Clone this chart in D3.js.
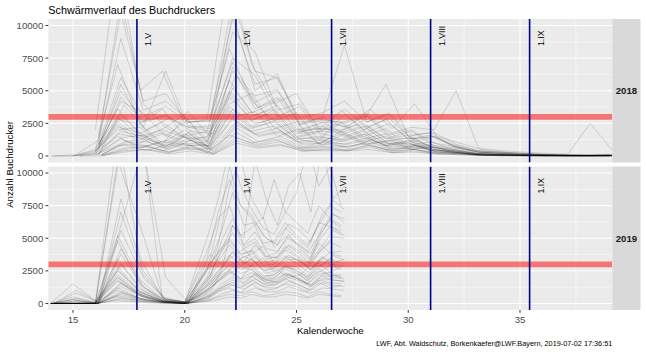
<!DOCTYPE html>
<html><head><meta charset="utf-8">
<script src="https://cdn.jsdelivr.net/npm/d3@7"></script>
<style>body{margin:0;background:#fff}svg{display:block}text{font-family:"Liberation Sans",Arial,sans-serif}</style>
</head><body><svg id="c" width="646" height="352"></svg>
<script>
// ---------------- data ----------------
const weeks2018 = [14,15,16,17,18,19,20,21,22,23,24,25,26,27,28,29,30,31,32,33,34,35,36,37,38,39];
const weeks2019 = [14,15,16,17,18,19,20,21,21.5,22,22.5,23,23.5,24,24.5,25,25.5,26,26.5,27];

const traps2018 = [
 [0,0,200,1500,600,1100,800,900,3500,2200,2600,1300,1000,1700,900,1100,500,700,200,100,80,50,30,20,30,40],
 [null,null,100,3200,1400,2200,1300,700,5200,3100,3900,1800,2300,1500,2100,900,1200,500,400,150,100,60,40,30,20,30],
 [null,0,500,7000,2500,3600,1500,1900,8200,4200,2700,3300,1200,2600,1500,2100,800,1100,500,200,150,100,50,30,40,60],
 [null,null,50,600,800,300,700,200,1800,900,1300,500,700,400,900,300,500,200,250,50,40,20,10,10,20,10],
 [0,100,1200,12000,4000,2200,3400,1500,11000,5000,6300,2400,3000,2200,3100,1400,1900,800,600,300,200,100,80,60,50,100],
 [null,null,300,2400,1000,1700,900,1100,4000,4800,2100,2600,900,1900,1100,1500,600,800,300,100,60,40,30,20,20,20],
 [null,null,800,4200,3300,1500,2800,900,6800,3600,4500,2000,2600,1700,2300,1200,1400,600,500,200,100,80,60,40,30,50],
 [null,0,100,900,400,900,500,600,2600,1500,1800,700,1100,600,1200,500,800,300,200,80,50,30,20,10,10,20],
 [null,null,2000,15000,5000,6500,2500,2800,14000,7000,4000,4800,2000,3500,2000,2800,1300,1600,800,400,300,200,100,80,60,80],
 [null,null,200,1900,1500,600,1300,400,3000,3400,1500,2100,800,1700,900,1200,500,700,300,100,80,50,40,30,20,30],
 [0,0,400,3600,1700,2600,1400,1200,4800,2700,3500,1500,1900,2500,1300,1700,700,900,400,150,100,60,50,30,30,40],
 [null,null,100,1100,1300,700,1900,300,2200,1100,1500,600,900,700,1100,400,700,300,200,60,40,20,20,10,10,10],
 [null,null,600,5500,2200,6500,2300,2100,7500,6200,3000,3800,1500,3200,1800,2500,1100,1400,700,300,200,100,70,50,40,60],
 [null,0,300,2800,2400,1000,2000,700,3800,2300,2900,1400,1800,1300,1900,900,1200,400,400,200,100,60,40,30,30,30],
 [null,null,0,300,500,150,400,100,1200,700,900,350,500,400,700,250,400,150,100,40,20,10,10,10,10,10],
 [null,null,1000,9000,3500,4200,2800,3000,10500,5500,6000,2600,2900,8500,2600,3200,1300,1500,700,300,200,150,100,80,60,80],
 [null,null,400,2000,2200,900,3000,1000,5800,3300,4100,1900,2100,1900,2700,5500,1500,1800,700,300,200,100,60,40,30,50],
 [null,0,200,1300,700,1200,800,800,2800,1700,2100,1000,1200,900,1400,700,900,400,300,100,60,40,30,20,20,20],
 [null,null,700,3900,2000,2900,1900,1700,6200,3700,4400,2000,2600,2200,3600,2100,4000,1500,1000,500,300,200,100,60,40,50],
 [null,null,100,800,900,400,1000,250,1600,1000,1300,600,700,700,900,500,600,250,200,80,50,30,20,20,20,20],
 [null,null,500,4500,2600,3100,2200,2300,7200,4100,5000,2400,2700,2600,3300,1700,2200,2000,5000,600,400,300,200,150,2500,400],
 [null,null,300,2200,1800,800,1700,700,3300,2100,2700,1300,1500,1200,1700,800,1000,500,300,100,80,50,30,20,20,30],
 [null,0,0,500,700,300,800,200,1400,800,1100,450,550,500,800,400,500,250,150,50,30,20,10,10,10,10],
 [null,null,900,6000,3000,3800,2600,2700,9500,8000,3500,4000,1900,3600,2200,2900,1300,1500,800,400,300,200,120,80,60,70],
 [null,null,200,1700,1400,600,1500,500,3100,1900,2300,1100,1300,1100,1500,800,1000,500,300,120,80,50,30,20,20,20],
 [null,null,1500,11000,4200,4800,2600,2700,12000,6500,6000,2900,3300,4200,2600,3300,1600,1800,900,400,250,150,100,70,50,60],
 [null,null,100,1000,1100,500,1200,400,2400,1600,1900,900,1000,900,1300,600,800,350,250,80,50,30,20,20,10,20],
 [null,null,600,3000,1500,2000,1400,1400,4500,2800,3300,1700,1900,1800,2300,1100,1400,700,400,200,120,80,50,30,30,40],
 [null,null,200,1400,1600,700,1800,600,3600,2500,2900,1300,1400,1200,1700,900,1100,500,300,120,80,50,30,20,20,30],
 [null,null,400,2600,1300,1800,1100,1500,5000,3100,3600,1800,2100,2000,2500,1300,1600,700,500,200,120,80,50,30,30,30],
 [null,null,50,400,500,250,600,150,1000,600,800,400,400,400,500,250,300,150,100,30,20,10,10,10,10,10],
 [null,null,800,5000,2700,3100,2200,1900,6500,4600,5100,2500,2800,2500,3100,1600,2000,1000,700,300,200,120,80,60,50,60]
];

const traps2019 = [
 [0,0,0,1200,400,100,0,800,1800,2500,1900,3000,2100,2200,2800,2600,1900,3100,2400,2800],
 [0,200,50,3000,1000,200,50,1500,2600,4000,3100,4500,3600,3500,4400,3800,3000,4200,5100,5000],
 [0,0,0,500,200,50,0,300,900,1200,800,1500,1000,1100,1500,1300,900,1600,1200,1400],
 [0,1000,100,8000,2500,300,100,3800,3000,3600,4200,3200,2500,2800,3400,3300,2600,3500,3000,2900],
 [0,0,0,2000,700,150,0,1000,2100,3000,2300,2600,1800,1900,2800,2400,1700,2700,2100,2200],
 [0,300,0,5200,1800,300,100,2500,6000,10500,7500,6500,4600,4800,6200,5200,4500,6000,7500,7000],
 [0,0,0,800,300,100,0,600,1300,1800,1500,2200,1600,1700,2300,1900,1400,2100,1800,1700],
 [0,0,50,13000,3500,400,100,4000,6500,7500,5200,5800,6600,4300,5100,4600,3900,5200,6400,5800],
 [0,100,0,1500,500,100,0,1200,2000,2800,3600,3200,2300,2600,2000,2200,2900,2900,3700,3300],
 [0,0,0,300,150,50,0,200,500,700,600,900,600,700,900,800,500,900,700,600],
 [0,500,100,2500,900,200,50,1800,3500,5000,3800,4000,2900,3000,4100,3600,2800,4600,3900,4000],
 [0,0,0,4200,1300,200,0,2200,4100,6000,4400,5000,3600,3900,5300,4200,3500,5500,6800,6500],
 [0,0,0,1000,400,100,0,900,1700,2300,2800,2600,1900,2000,2600,2300,1800,2500,2200,2000],
 [0,200,0,5600,2000,300,100,3200,5500,8500,6000,6200,5000,4500,6100,5600,4700,6800,7900,7200],
 [0,0,0,600,300,100,0,400,1100,1500,1200,1800,1300,1400,1900,1500,1100,1800,1600,1500],
 [0,0,0,2200,800,200,50,1400,2500,3300,2600,2900,3500,2400,2900,2800,2100,3200,3900,3600],
 [0,800,100,7000,2200,300,100,3000,4300,5400,4200,4700,3400,3600,4500,4000,3300,4400,5600,5200],
 [0,0,0,1700,600,100,0,1100,2000,2600,1900,2400,1700,1800,2300,2000,1500,2400,2900,2600],
 [0,0,0,400,200,50,0,300,700,1000,800,1200,900,900,1300,1000,800,1200,1100,1000],
 [0,100,0,3400,1100,200,50,2600,3200,4500,3500,3800,4400,3100,3600,3400,2900,3900,4700,4300],
 [0,0,0,11000,6000,500,100,5000,8000,12000,9000,7200,5800,5300,7000,6200,5400,7500,6500,6000],
 [0,0,0,1300,500,100,0,700,1500,2000,1600,2300,1800,1600,2200,1800,1400,2200,2000,1900],
 [0,300,50,2800,900,200,0,1600,3000,3700,2900,3400,2500,2700,3500,3100,2400,3300,3000,2800],
 [0,0,0,900,300,100,0,500,1100,1400,1100,1600,1200,1200,1700,1400,1000,1600,1400,1300],
 [0,0,0,4800,1500,200,50,2800,3900,4800,3700,4100,3200,3300,4400,3700,3100,4800,5900,5400],
 [0,1500,200,2000,700,100,0,1000,1700,2400,1800,2100,1500,1600,2300,1900,1500,2200,2400,2000],
 [0,0,0,700,250,50,0,600,1200,1600,1300,1900,1400,1500,2000,1700,1300,1900,1800,1700],
 [0,0,0,1800,600,150,0,1300,2200,2900,3400,2800,2000,2200,2900,2500,2000,2800,3400,3100],
 [0,0,0,3800,1200,200,50,2000,4800,6500,4500,5500,4200,4000,5100,4500,3800,5800,6900,6200],
 [0,0,0,200,100,0,0,150,300,500,400,700,500,500,700,600,400,700,600,500],
 [0,0,0,10500,14000,400,100,3500,7000,9500,7500,6800,5200,4600,5800,5000,4300,6200,5900,5600],
 [0,400,0,1600,600,150,50,1700,2800,3900,3000,3600,2700,2900,3700,3200,2600,3600,3100,3400],
 [0,0,0,2600,900,200,0,2000,4500,9000,11000,8000,6500,9500,7000,8500,12000,9000,10500,7500],
 [0,0,100,6000,12000,2000,100,800,2500,6000,5000,11000,8000,6000,9000,10000,7000,12000,8000,9000]
];

// emptying-day offset of each trap, in days after the week mark
const dayOffset2018 = [0,1,0,2,1,0,1,2,0,1,0,2,1,0,2,1,0,1,2,0,1,0,2,1,0,1,2,0,1,0,2,1];
const dayOffset2019 = [0,1,0,1,0,0,1,0,1,0,0,1,0,1,0,0,1,0,1,0,0,1,0,1,0,0,1,0,1,0,0,1,0,1];

const yearLabels = ["2018","2019"];
const threshold = 3000;
const monthLabels = ["1.V","1.VI","1.VII","1.VIII","1.IX"];
const monthWeeks = [17.86,22.29,26.57,31.0,35.43];
const xTicks = [15,20,25,30,35];
const xMinor = [17.5,22.5,27.5,32.5,37.5];
const yTicks = [0,2500,5000,7500,10000];
const yMinor = [1250,3750,6250,8750];

const titleText = "Schwärmverlauf des Buchdruckers";
const xTitle = "Kalenderwoche";
const yTitle = "Anzahl Buchdrucker";
const captionText = "LWF, Abt. Waldschutz, Borkenkaefer@LWF.Bayern, 2019-07-02 17:36:51";

// ---------------- layout ----------------
const svg = d3.select("#c");
const L = 48.3, R = 612.3, stripW = 28.2;
const panelTops = [19, 166.5], PH = 143.5;

const x = d3.scaleLinear().domain([13.895, 39.13]).range([L, R]);

const panels = [
  {year: yearLabels[0], weeks: weeks2018, traps: traps2018, off: dayOffset2018},
  {year: yearLabels[1], weeks: weeks2019, traps: traps2019, off: dayOffset2019}
];

panels.forEach((p, i) => {
  const top = panelTops[i], bot = top + PH;
  const y = d3.scaleLinear().domain([-500, 10500]).range([bot, top]);
  const g = svg.append("g");
  g.append("rect").attr("x", L).attr("y", top).attr("width", R - L).attr("height", PH).attr("fill", "#EBEBEB");
  g.selectAll(".ym").data(yMinor).join("line").attr("x1", L).attr("x2", R)
    .attr("y1", d => y(d)).attr("y2", d => y(d)).attr("stroke", "#fff").attr("stroke-width", 0.5);
  g.selectAll(".xm").data(xMinor).join("line").attr("y1", top).attr("y2", bot)
    .attr("x1", d => x(d)).attr("x2", d => x(d)).attr("stroke", "#fff").attr("stroke-width", 0.5);
  g.selectAll(".yM").data(yTicks).join("line").attr("x1", L).attr("x2", R)
    .attr("y1", d => y(d)).attr("y2", d => y(d)).attr("stroke", "#fff").attr("stroke-width", 1);
  g.selectAll(".xM").data(xTicks).join("line").attr("y1", top).attr("y2", bot)
    .attr("x1", d => x(d)).attr("x2", d => x(d)).attr("stroke", "#fff").attr("stroke-width", 1);

  const cid = "clip" + i;
  svg.append("clipPath").attr("id", cid).append("rect")
    .attr("x", L).attr("y", top).attr("width", R - L).attr("height", PH);
  const pg = g.append("g").attr("clip-path", `url(#${cid})`);

  const line = d3.line()
    .defined(d => d.v !== null)
    .x(d => x(d.w)).y(d => y(d.v));
  p.traps.forEach((vals, k) => {
    const pts = vals.map((v, j) => ({w: p.weeks[j] + p.off[k] / 7, v}));
    pg.append("path").attr("d", line(pts)).attr("fill", "none")
      .attr("stroke", "#000").attr("stroke-opacity", 0.2).attr("stroke-width", 0.7);
  });

  pg.append("line").attr("x1", L).attr("x2", R).attr("y1", y(threshold)).attr("y2", y(threshold))
    .attr("stroke", "#FF0000").attr("stroke-opacity", 0.5).attr("stroke-width", 5.6);

  pg.selectAll(".ml").data(monthWeeks).join("line")
    .attr("x1", d => x(d)).attr("x2", d => x(d)).attr("y1", top).attr("y2", bot)
    .attr("stroke", "#00008B").attr("stroke-width", 1.6);
  pg.selectAll(".mt").data(monthWeeks).join("text")
    .attr("transform", d => `translate(${x(d) + 14.2},${top + 27}) rotate(-90)`)
    .attr("font-size", 8.7).attr("fill", "#000").text((d, j) => monthLabels[j]);

  g.selectAll(".yt").data(yTicks).join("line").attr("x1", L - 2.8).attr("x2", L)
    .attr("y1", d => y(d)).attr("y2", d => y(d)).attr("stroke", "#333").attr("stroke-width", 1);
  g.selectAll(".yl").data(yTicks).join("text").attr("x", L - 5).attr("y", d => y(d) + 3.4)
    .attr("text-anchor", "end").attr("font-size", 9.6).attr("fill", "#4D4D4D").text(d => d);

  g.append("rect").attr("x", R).attr("y", top).attr("width", stripW).attr("height", PH).attr("fill", "#D9D9D9");
  g.append("text").attr("x", R + stripW / 2).attr("y", top + PH / 2 + 3.4).attr("text-anchor", "middle")
    .attr("font-size", 9.6).attr("font-weight", "bold").attr("fill", "#1A1A1A").text(p.year);

  if (i === 1) {
    g.selectAll(".xt").data(xTicks).join("line").attr("y1", bot).attr("y2", bot + 2.8)
      .attr("x1", d => x(d)).attr("x2", d => x(d)).attr("stroke", "#333").attr("stroke-width", 1);
    g.selectAll(".xl").data(xTicks).join("text").attr("x", d => x(d)).attr("y", bot + 12.6)
      .attr("text-anchor", "middle").attr("font-size", 9.6).attr("fill", "#4D4D4D").text(d => d);
  }
});

svg.append("text").attr("x", L).attr("y", 13.5).attr("font-size", 10.8).attr("fill", "#000").text(titleText);
svg.append("text").attr("x", (L + R) / 2).attr("y", 333.5).attr("text-anchor", "middle")
  .attr("font-size", 9.7).attr("fill", "#000").text(xTitle);
svg.append("text").attr("transform", `translate(13,${(panelTops[0] + panelTops[1] + PH) / 2}) rotate(-90)`)
  .attr("text-anchor", "middle").attr("font-size", 9.7).attr("fill", "#000").text(yTitle);
svg.append("text").attr("x", R).attr("y", 345.7).attr("text-anchor", "end")
  .attr("font-size", 7.3).attr("fill", "#000").text(captionText);
</script></body></html>
